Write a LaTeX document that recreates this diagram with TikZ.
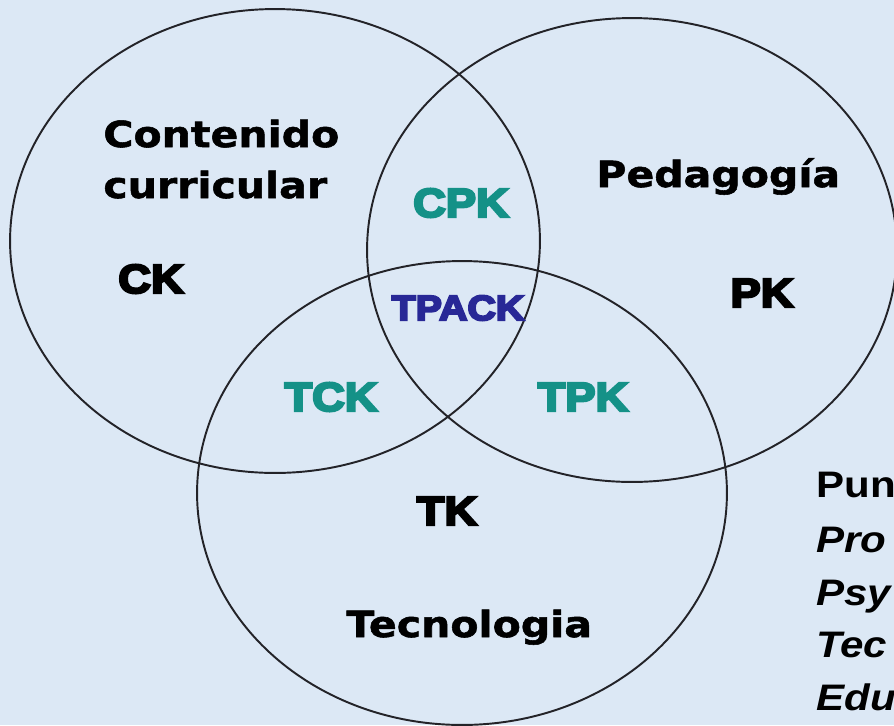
\documentclass[tikz,border=0pt]{standalone}
\usepackage{fontspec}
\setmainfont{DejaVu Sans}
\newfontfamily\areafont[FakeStretch=1.14,FakeBold=1.5]{DejaVu Sans Bold}
\newfontfamily\codefont[FakeStretch=1.12,FakeBold=6]{Liberation Sans Bold}
\newfontfamily\notefont[FakeStretch=1.14]{Liberation Sans Bold}
\newfontfamily\noteitfont[FakeStretch=1.14]{Liberation Sans Bold Italic}
\usetikzlibrary{shapes.geometric}
\definecolor{paper}{RGB}{220,232,245}
\definecolor{mixteal}{RGB}{20,145,135}
\definecolor{corenavy}{RGB}{40,40,150}
\definecolor{rim}{RGB}{35,35,40}

\begin{document}
\begin{tikzpicture}[x=0.02cm,y=-0.02cm]
    \tikzstyle{set}=[ellipse,draw=rim,line width=1.1pt,minimum width=10.6cm,minimum height=9.28cm,inner sep=0pt]
    \tikzstyle{area}=[inner sep=0pt,anchor=base west,align=left,font=\areafont\fontsize{20.5}{29}\selectfont]
    \tikzstyle{code}=[inner sep=0pt,font=\codefont\fontsize{23}{26}\selectfont]
    \tikzstyle{mixed}=[code,text=mixteal]
    \tikzstyle{core}=[code,text=corenavy,font=\codefont\fontsize{20}{24}\selectfont]
    \tikzstyle{note}=[inner sep=0pt,anchor=base west,font=\notefont\fontsize{21}{24}\selectfont]
    \tikzstyle{noteit}=[note,font=\noteitfont\fontsize{21}{24}\selectfont]
    \path [clip] (0,0) rectangle (894,725);
    \fill [paper] (0,0) rectangle (894,725);
    % the three sets
    \node (cset) at (275,241) [set] {};
    \node (pset) at (632,250) [set] {};
    \node (tset) at (462,493) [set] {};
    % names of the sets
    \node (content) at (103,198) [area] {Contenido\\curricular};
    \node (pedagogy) at (596,187) [area] {Pedagogía};
    \node (technology) at (346,637) [area] {Tecnologia};
    % knowledge areas
    \node (ck) at (151,279) [code] {CK};
    \node (pk) at (762,293) [code] {PK};
    \node (tk) at (447,511) [code] {TK};
    \node (cpk) at (461,203) [mixed] {CPK};
    \node (tck) at (331,397) [mixed] {TCK};
    \node (tpk) at (583,397) [mixed] {TPK};
    \node (tpack) at (458,308) [core] {TPACK};
    % source, cut at the edge
    \node (src1) at (816,497) [note] {Pun};
    \node (src2) at (816,552) [noteit] {Pro};
    \node (src3) at (816,605) [noteit] {Psy};
    \node (src4) at (816,657) [noteit] {Tec};
    \node (src5) at (816,710) [noteit] {Edu};
\end{tikzpicture}
\end{document}
